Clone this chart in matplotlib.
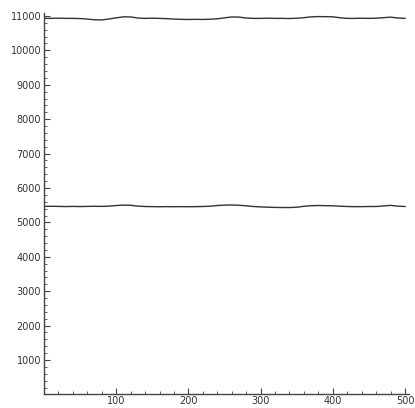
import numpy as np
import matplotlib
matplotlib.use('agg')
import matplotlib.pyplot as plt
from matplotlib.ticker import MultipleLocator

x = list(range(0, 501, 10))

upper = [10930, 10930, 10935, 10930, 10930, 10925, 10910, 10888, 10885, 10912,
         10945, 10975, 10972, 10940, 10930, 10935, 10930, 10922, 10910, 10902,
         10898, 10902, 10898, 10905, 10918, 10945, 10970, 10968, 10940, 10930,
         10930, 10935, 10930, 10930, 10925, 10935, 10950, 10975, 10982, 10980,
         10975, 10948, 10930, 10930, 10935, 10930, 10935, 10950, 10965, 10942,
         10930]

lower = [5465, 5468, 5465, 5460, 5465, 5460, 5465, 5468, 5465, 5472,
         5490, 5502, 5498, 5472, 5462, 5458, 5455, 5458, 5455, 5458,
         5455, 5458, 5462, 5470, 5490, 5502, 5505, 5498, 5482, 5462,
         5450, 5442, 5435, 5432, 5432, 5440, 5468, 5485, 5490, 5486,
         5482, 5470, 5462, 5458, 5458, 5462, 5462, 5478, 5495, 5472,
         5462]

xticks = [100, 200, 300, 400, 500]
yticks = list(range(1000, 11001, 1000))

fig = plt.figure(figsize=(4.15, 4.08), dpi=100)
ax = fig.add_axes([0.106, 0.0333, 0.8786, 0.936])

ax.plot(x, upper, color='#333333', lw=1.0)
ax.plot(x, lower, color='#333333', lw=1.0)

ax.set_xlim(0, 505)
ax.set_ylim(0, 11100)

for s in ['top', 'right']:
    ax.spines[s].set_visible(False)
for s in ['left', 'bottom']:
    ax.spines[s].set_color('#444444')
    ax.spines[s].set_linewidth(1.0)

ax.set_xticks(xticks)
ax.set_yticks(yticks)
ax.xaxis.set_minor_locator(MultipleLocator(20))
ax.yaxis.set_minor_locator(MultipleLocator(200))
ax.tick_params(which='major', direction='in', length=4, width=0.8, color='#444444',
               labelsize=7, labelcolor='#333333', pad=2)
ax.tick_params(which='minor', direction='in', length=2, width=0.6, color='#444444')
ax.tick_params(axis='x', pad=1)

plt.savefig('out.png', dpi=100)
